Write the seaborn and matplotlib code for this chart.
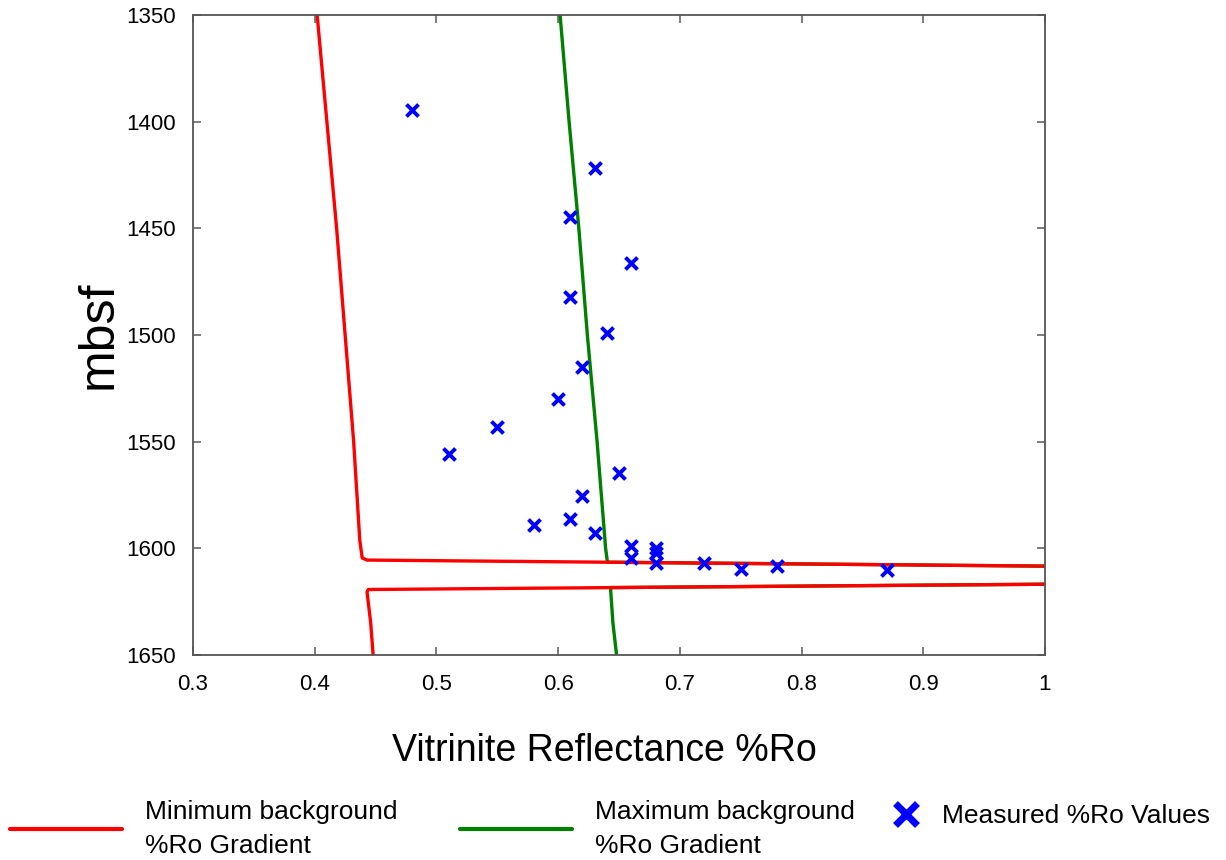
import matplotlib
matplotlib.use("Agg")
import matplotlib.pyplot as plt
import seaborn as sns
import pandas as pd
from matplotlib.lines import Line2D

# ---- data ----
red_depth = [1350, 1400, 1450, 1500, 1550, 1596, 1604.5, 1605.5, 1608.6, 1616.6, 1619.3, 1620.5, 1635, 1650]
red_ro = [0.402, 0.410, 0.418, 0.425, 0.432, 0.437, 0.439, 0.443, 1.05, 1.05, 0.444, 0.443, 0.446, 0.448]

green_depth = [1350, 1400, 1450, 1500, 1550, 1600, 1606.5, 1608.6, 1616.6, 1618.4, 1635, 1650]
green_ro = [0.6016, 0.609, 0.617, 0.624, 0.632, 0.639, 0.6405, 1.05, 1.05, 0.643, 0.645, 0.648]

meas_ro = [0.48, 0.63, 0.61, 0.66, 0.61, 0.64, 0.62, 0.60, 0.55, 0.51, 0.65, 0.62,
           0.58, 0.61, 0.63, 0.66, 0.66, 0.68, 0.68, 0.68, 0.72, 0.75, 0.78, 0.87]
meas_depth = [1394.7, 1421.9, 1444.7, 1466.1, 1482.3, 1498.9, 1515.0, 1529.9, 1543.3, 1555.6, 1564.7, 1575.3,
              1589.0, 1586.3, 1592.9, 1599.0, 1604.7, 1599.7, 1602.4, 1606.8, 1607.0, 1609.6, 1608.3, 1610.2]

x_ticks = [0.3, 0.4, 0.5, 0.6, 0.7, 0.8, 0.9, 1.0]
x_ticklabels = ["0.3", "0.4", "0.5", "0.6", "0.7", "0.8", "0.9", "1"]
y_ticks = [1350, 1400, 1450, 1500, 1550, 1600, 1650]

labels = ["Minimum background\n%Ro Gradient", "Maximum background\n%Ro Gradient", "Measured %Ro Values"]

sns.set_theme(style="white")
plt.rcParams["font.family"] = ["Liberation Sans", "DejaVu Sans"]
plt.rcParams["text.color"] = "black"
plt.rcParams["axes.labelcolor"] = "black"

W, H = 1226, 860
fig = plt.figure(figsize=(W / 100, H / 100), dpi=100)
ax = fig.add_axes([193 / W, 205 / H, 852 / W, 640 / H])

red_df = pd.DataFrame({"ro": red_ro, "depth": red_depth})
green_df = pd.DataFrame({"ro": green_ro, "depth": green_depth})
meas_df = pd.DataFrame({"ro": meas_ro, "depth": meas_depth})

sns.lineplot(data=green_df, x="ro", y="depth", sort=False, estimator=None, color="#008000", lw=2.4, ax=ax)
sns.lineplot(data=red_df, x="ro", y="depth", sort=False, estimator=None, color="#ff0000", lw=2.4, ax=ax)
sns.scatterplot(data=meas_df, x="ro", y="depth", marker="x", color="#0000ff", s=75, linewidth=2.8, ax=ax, zorder=5)

ax.set_xlim(0.3, 1.0)
ax.set_ylim(1650, 1350)
ax.set_xticks(x_ticks)
ax.set_xticklabels(x_ticklabels)
ax.set_yticks(y_ticks)
ax.tick_params(direction="in", length=6, width=1.2, color="#666666", labelsize=16,
               top=True, right=True, bottom=True, left=True, labelcolor="black")
ax.tick_params(axis="x", pad=14)
ax.tick_params(axis="y", pad=12)
for s in ax.spines.values():
    s.set_color("#555555")
    s.set_linewidth(1.3)

ax.set_xlabel("Vitrinite Reflectance %Ro", fontsize=27)
ax.xaxis.set_label_coords((604 - 193) / 852, -(733 - 655) / 640)
ax.set_ylabel("mbsf", fontsize=36, labelpad=4)

fs = 19
h_red = Line2D([], [], color="#ff0000", lw=3)
h_green = Line2D([], [], color="#008000", lw=3)
h_meas = Line2D([], [], color="#0000ff", marker="x", ls="none", markersize=16, mew=5)

common = dict(frameon=False, loc="center left", borderaxespad=0, borderpad=0,
              fontsize=fs, handletextpad=0.87)
leg1 = fig.legend([h_red], [labels[0]], bbox_to_anchor=(10 / W, 1 - 829 / H), handlelength=4.25, **common)
leg2 = fig.legend([h_green], [labels[1]], bbox_to_anchor=(460 / W, 1 - 829 / H), handlelength=4.25, **common)
leg3 = fig.legend([h_meas], [labels[2]], bbox_to_anchor=(893 / W, 1 - 816 / H), handlelength=1.0, **common)
for lg in (leg1, leg2):
    for t in lg.get_texts():
        t.set_linespacing(1.55)

fig.savefig("out.png", dpi=100, facecolor="white")
